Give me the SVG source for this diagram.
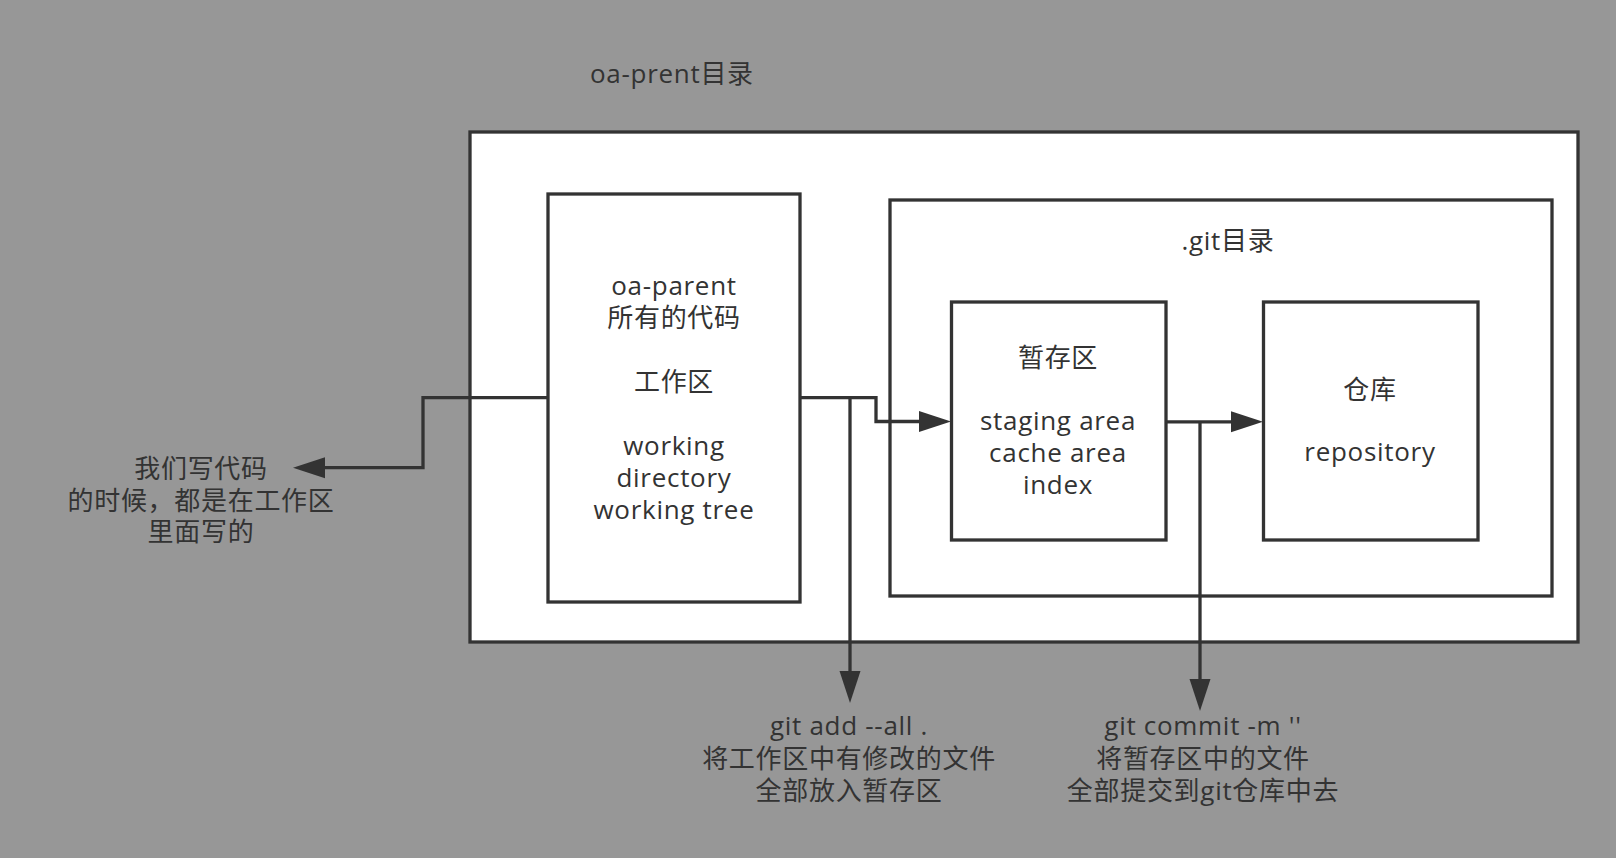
<svg xmlns="http://www.w3.org/2000/svg" width="1616" height="858" viewBox="0 0 1616 858">
<style>
.box{fill:#ffffff;stroke:#333333;stroke-width:3.3}
.conn{fill:none;stroke:#333333;stroke-width:3.3}
text{font-family:"Open Sans","Noto Sans CJK SC",sans-serif;font-size:26px;letter-spacing:0.7px;fill:#333333;text-anchor:middle}
</style>
<defs>
<marker id="arr" viewBox="0 -11 33 22" markerWidth="33" markerHeight="22" refX="1" refY="0" orient="auto" markerUnits="userSpaceOnUse">
<path d="M0,-10.5 L32,0 L0,10.5 z" fill="#333333"/>
</marker>
</defs>
<rect x="0" y="0" width="1616" height="858" fill="#979797"/>
<text x="590" y="83" style="text-anchor:start">oa-prent目录</text>
<g id="outer">
<rect class="box" x="470" y="132" width="1108" height="510"/>
</g>
<g id="working">
<rect class="box" x="548" y="194" width="252" height="408"/>
<text x="674" y="295">oa-parent</text>
<text x="674" y="327">所有的代码</text>
<text x="674" y="391">工作区</text>
<text x="674" y="455">working</text>
<text x="674" y="487">directory</text>
<text x="674" y="519">working tree</text>
</g>
<g id="gitdir">
<rect class="box" x="890" y="200" width="662" height="396"/>
<text x="1228" y="250">.git目录</text>
</g>
<g id="staging">
<rect class="box" x="951.5" y="302" width="214.5" height="238"/>
<text x="1058" y="367">暂存区</text>
<text x="1058" y="430">staging area</text>
<text x="1058" y="462">cache area</text>
<text x="1058" y="494">index</text>
</g>
<g id="repo">
<rect class="box" x="1263.5" y="302" width="214.5" height="238"/>
<text x="1370" y="399">仓库</text>
<text x="1370" y="461">repository</text>
</g>
<g id="connectors">
<path class="conn" d="M548,397.7 H423 V467.7 H324" marker-end="url(#arr)"/>
<path class="conn" d="M800,397.7 H876 V421.5 H920" marker-end="url(#arr)"/>
<path class="conn" d="M850,397.7 V672" marker-end="url(#arr)"/>
<path class="conn" d="M1166,421.8 H1232" marker-end="url(#arr)"/>
<path class="conn" d="M1200,421.8 V680" marker-end="url(#arr)"/>
</g>
<g id="label-left">
<text x="201" y="478">我们写代码</text>
<text x="201" y="510">的时候，都是在工作区</text>
<text x="201" y="541">里面写的</text>
</g>
<g id="label-add">
<text x="849" y="735">git add --all .</text>
<text x="849" y="768">将工作区中有修改的文件</text>
<text x="849" y="800">全部放入暂存区</text>
</g>
<g id="label-commit">
<text x="1203" y="735">git commit -m ''</text>
<text x="1203" y="768">将暂存区中的文件</text>
<text x="1203" y="800">全部提交到git仓库中去</text>
</g>
</svg>
